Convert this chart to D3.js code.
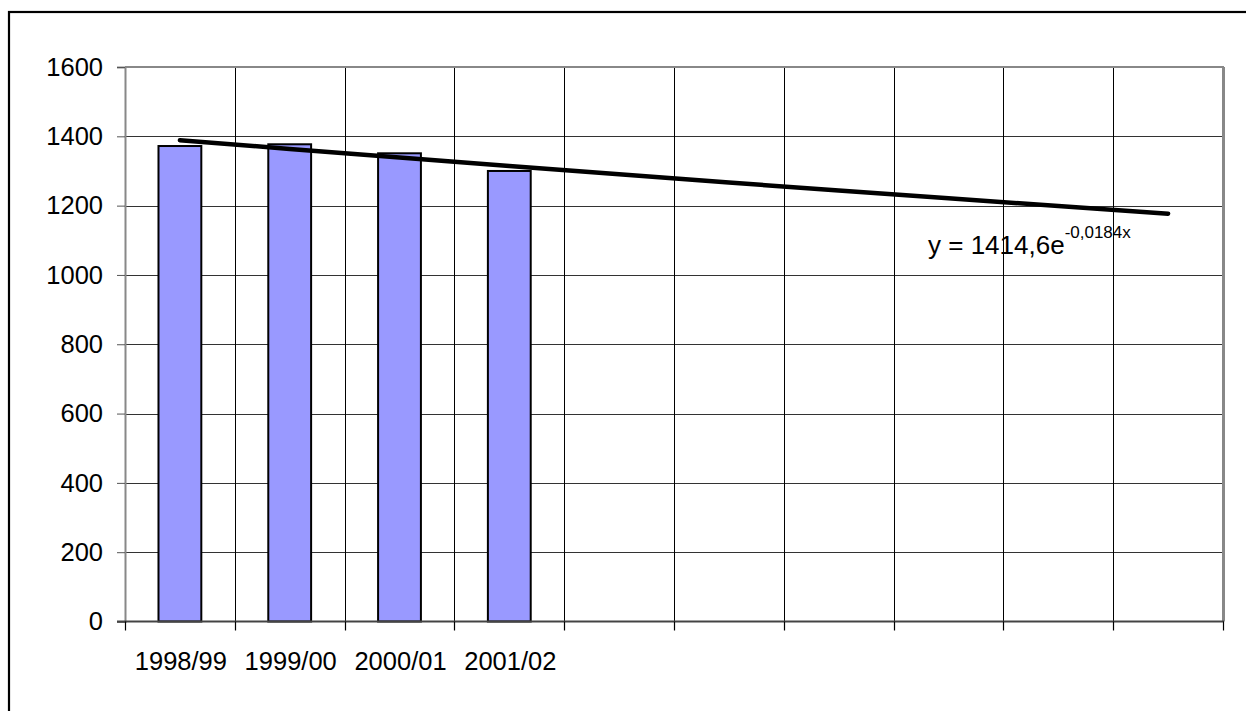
<!DOCTYPE html>
<html><head><meta charset="utf-8">
<script src="https://cdn.jsdelivr.net/npm/d3@7"></script>
<style>
html,body{margin:0;padding:0;background:#fff;}
svg{display:block;font-family:Arial,"Liberation Sans",sans-serif;}
</style></head>
<body>
<svg id="chart" width="1246" height="711"></svg>
<script>
const categories = ["1998/99","1999/00","2000/01","2001/02","","","","","",""];
const values = [1372, 1377, 1351, 1300];
const yTicks = [0,200,400,600,800,1000,1200,1400,1600];
const trendCoefA = 1414.6;
const trendCoefB = -0.0184;
const trendLabel = "y = 1414,6e";
const trendLabelExp = "-0,0184x";

const svg = d3.select("#chart");
const L = 125, R = 1223, T = 67, B = 621.5;

// outer border
svg.append("rect").attr("x",9).attr("y",12).attr("width",1300).attr("height",800)
  .attr("fill","none").attr("stroke","#000").attr("stroke-width",2.2);

const x = d3.scaleBand().domain(d3.range(categories.length)).range([L,R]).padding(0);
const y = d3.scaleLinear().domain([0,1600]).range([B,T]);

// horizontal gridlines
svg.append("g").selectAll("line").data(yTicks.filter(d=>d>0 && d<1600)).join("line")
  .attr("x1",L).attr("x2",R).attr("y1",d=>Math.round(y(d))+0.5).attr("y2",d=>Math.round(y(d))+0.5)
  .attr("stroke","#333").attr("stroke-width",1);

// vertical gridlines
svg.append("g").selectAll("line").data(d3.range(1,categories.length)).join("line")
  .attr("x1",d=>Math.round(x(d))+0.5).attr("x2",d=>Math.round(x(d))+0.5).attr("y1",T).attr("y2",B)
  .attr("stroke","#000").attr("stroke-width",1);

// plot border top/right (gray)
svg.append("line").attr("x1",L).attr("x2",R+1).attr("y1",T).attr("y2",T).attr("stroke","#888").attr("stroke-width",2);
svg.append("line").attr("x1",R+0.5).attr("x2",R+0.5).attr("y1",T).attr("y2",B).attr("stroke","#888").attr("stroke-width",3);

// bars
const bw = x.bandwidth()*0.39;
svg.append("g").selectAll("rect").data(values).join("rect")
  .attr("x",(d,i)=>x(i)+x.bandwidth()/2 - bw/2)
  .attr("y",d=>y(d))
  .attr("width",bw)
  .attr("height",d=>B-y(d))
  .attr("fill","#9999FF").attr("stroke","#000").attr("stroke-width",2);

// y axis
const yAxis = d3.axisLeft(y).tickValues(yTicks).tickSize(8).tickPadding(14).tickFormat(d3.format("d"));
const gy = svg.append("g").attr("transform",`translate(${L},0)`).call(yAxis);
gy.select(".domain").attr("stroke","#888").attr("stroke-width",2);
gy.selectAll(".tick line").attr("stroke","#555").attr("stroke-width",1);
gy.selectAll("text").attr("font-size","25.5px").attr("fill","#000").attr("font-family","Arial,'Liberation Sans',sans-serif");

// x axis: ticks at category boundaries
const gx = svg.append("g");
gx.append("line").attr("x1",L-8).attr("x2",R+1).attr("y1",B).attr("y2",B).attr("stroke","#444").attr("stroke-width",2);
gx.selectAll("line.tk").data(d3.range(0,categories.length+1)).join("line").attr("class","tk")
  .attr("x1",d=>Math.round(d<categories.length? x(d): R)+0.5).attr("x2",d=>Math.round(d<categories.length? x(d): R)+0.5)
  .attr("y1",B).attr("y2",B+9).attr("stroke","#000").attr("stroke-width",1.2);
gx.selectAll("text").data(categories).join("text")
  .attr("x",(d,i)=>x(i)+x.bandwidth()/2+1).attr("y",670)
  .attr("text-anchor","middle").attr("font-size","25.5px").attr("fill","#000").text(d=>d);

// trendline
const trendPts = d3.range(categories.length).map(i=>[x(i)+x.bandwidth()/2, trendCoefA*Math.exp(trendCoefB*(i+1))]);
svg.append("path").datum(trendPts)
  .attr("d", d3.line().x(d=>d[0]).y(d=>y(d[1])))
  .attr("fill","none").attr("stroke","#000").attr("stroke-width",4.5).attr("stroke-linecap","round");

// equation label
const eq = svg.append("text").attr("x",928).attr("y",254).attr("font-size","26px").attr("fill","#000");
eq.append("tspan").text(trendLabel);
eq.append("tspan").attr("dy",-16).attr("font-size","17px").text(trendLabelExp);
</script>
</body></html>
